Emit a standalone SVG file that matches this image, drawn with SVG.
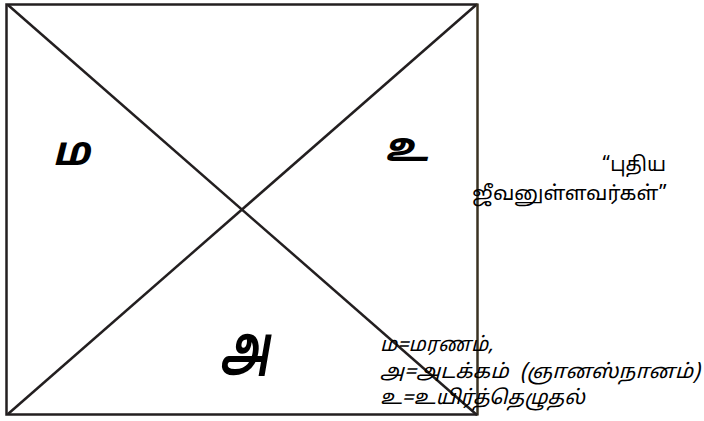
<svg xmlns="http://www.w3.org/2000/svg" width="704" height="421" viewBox="0 0 704 421">
<style>
.frame{fill:none;stroke:#231f20;stroke-width:2.5}
.ln{stroke:#231f20;stroke-width:2.5;fill:none}
.big{font-family:"Noto Sans Tamil","Lohit Tamil","Noto Sans","DejaVu Sans",sans-serif;font-weight:bold;font-style:italic;font-size:40px;fill:#000}
.t{font-family:"Noto Sans Tamil","Lohit Tamil","Noto Sans","DejaVu Sans",sans-serif;font-size:20px;fill:#000}
.it{font-style:italic}
</style>
<rect width="704" height="421" fill="#fff"/>
<g id="frame">
<path class="frame" d="M477.5,4.5 H6.5 V414.5 H477.5"/>
<line x1="477.5" y1="3.5" x2="477.5" y2="415.5" stroke="#3a3222" stroke-width="2.5"/>
</g>
<g id="connectors">
<line class="ln" x1="8" y1="5" x2="477" y2="415"/>
<line class="ln" x1="8" y1="414" x2="476" y2="5"/>
</g>
<g id="node-ma"><text class="big" x="71" y="165" text-anchor="middle">ம</text></g>
<g id="node-u"><text class="big" x="406" y="161" text-anchor="middle" font-style="normal" font-size="38">உ</text></g>
<g id="node-a"><text class="big" transform="translate(245,367) scale(1,1.45)" text-anchor="middle" font-size="36">அ</text></g>
<g id="label-new">
<text class="t" x="666" y="171" text-anchor="end" textLength="64" lengthAdjust="spacingAndGlyphs">“புதிய</text>
<text class="t" x="667" y="200" text-anchor="end" textLength="195" lengthAdjust="spacingAndGlyphs">ஜீவனுள்ளவர்கள்”</text>
</g>
<g id="legend">
<text class="t it" x="380" y="351" font-size="21">ம=மரணம்,</text>
<text class="t it" x="380" y="378" xml:space="preserve" textLength="320" lengthAdjust="spacingAndGlyphs">அ=அடக்கம்  (ஞானஸ்நானம்)</text>
<text class="t it" x="380" y="404" textLength="205" lengthAdjust="spacingAndGlyphs">உ=உயிர்த்தெழுதல்</text>
</g>
</svg>
